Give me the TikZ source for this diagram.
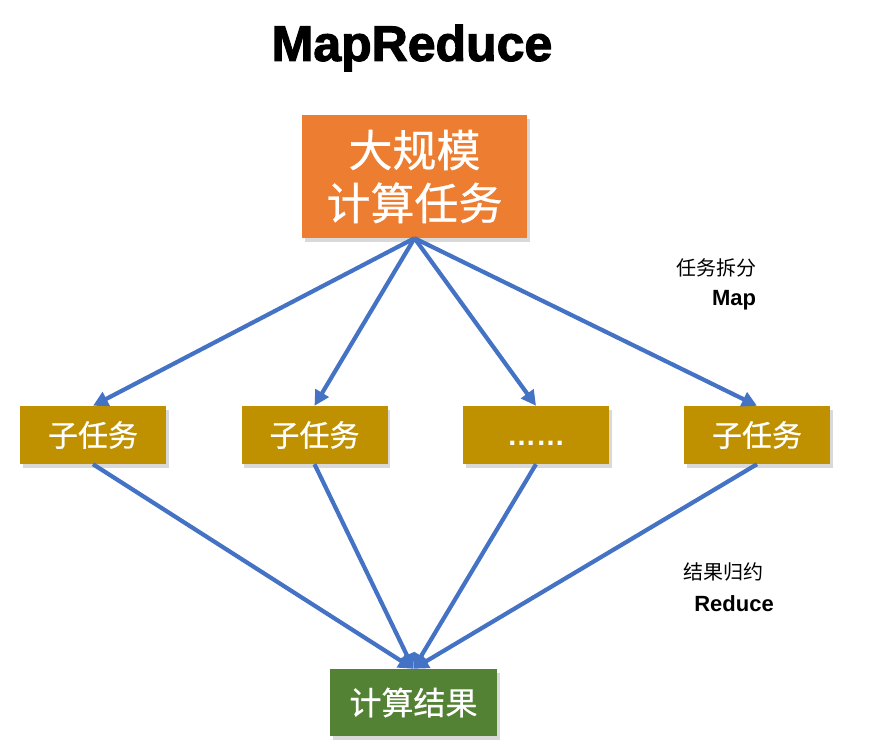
\documentclass[tikz,border=0pt]{standalone}
\usepackage{fontspec}
\setmainfont{Liberation Sans}
\newfontfamily\cjk{Noto Sans CJK SC}
\newfontfamily\cjkbox[FakeBold=0.6]{Noto Sans CJK SC}
\newfontfamily\titlefont[FakeBold=2.2]{Liberation Sans Bold}
\usetikzlibrary{arrows.meta,shadows}
\definecolor{orangebox}{HTML}{ED7D31}
\definecolor{goldbox}{HTML}{BF9000}
\definecolor{greenbox}{HTML}{548235}
\definecolor{arrowblue}{HTML}{4472C4}
\begin{document}
\begin{tikzpicture}[x=1pt,y=-1pt,
  box/.style={draw=none, text=white, inner sep=0pt, align=center,
    drop shadow={opacity=0.3, shadow xshift=2.5pt, shadow yshift=-3.5pt}},
  conn/.style={draw=arrowblue, line width=4.2pt,
    -{Triangle[length=15pt,width=15pt]}},
  lbl/.style={inner sep=0pt, align=center}]
\useasboundingbox (0,0) rectangle (869,748);
\node[lbl, font=\titlefont\fontsize{50}{56}\selectfont] (title) at (412,48) {MapReduce};
\node[box, fill=orangebox, minimum width=225pt, minimum height=123pt,
  font=\cjkbox\fontsize{44}{53}\selectfont] (top) at (414.5,176.5) {大规模\\计算任务};
\foreach \n/\x/\t in {s1/93/子任务, s2/314.5/子任务, s4/757/子任务}{
  \node[box, fill=goldbox, minimum width=146pt, minimum height=58pt,
    font=\cjkbox\fontsize{30}{34}\selectfont] (\n) at (\x,435) {\t};
}
\node[box, fill=goldbox, minimum width=146pt, minimum height=58pt,
  font=\bfseries\fontsize{29}{32}\selectfont] (s3) at (536,435) {\vphantom{\cjk 子}……};
\node[box, fill=greenbox, minimum width=167pt, minimum height=67pt,
  font=\cjkbox\fontsize{32}{36}\selectfont] (bot) at (413.5,702.5) {计算结果};
\node[lbl, font=\cjk\fontsize{20}{24}\selectfont] (mapzh) at (716,268) {任务拆分};
\node[lbl, font=\bfseries\fontsize{22}{26}\selectfont] (mapen) at (734,300) {Map};
\node[lbl, font=\cjk\fontsize{20}{24}\selectfont] (redzh) at (723,572) {结果归约};
\node[lbl, font=\bfseries\fontsize{22}{26}\selectfont] (reden) at (734,604) {Reduce};
\foreach \n in {s1,s2,s3,s4}{
  \draw[conn] (top.south) -- (\n.north);
  \draw[conn] (\n.south) -- (bot.north);
}
\end{tikzpicture}
\end{document}
